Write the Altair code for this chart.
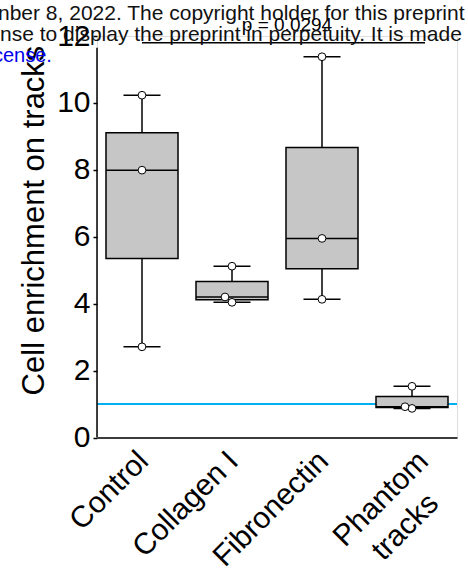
import altair as alt
import pandas as pd

# ---- data ----
categories = ["Control", "Collagen I", "Fibronectin", "Phantom\ntracks"]
control = [2.71, 7.99, 10.23]
collagen = [4.04, 4.20, 5.12]
fibronectin = [4.13, 5.95, 11.38]
phantom = [0.87, 0.92, 1.53]
y_ticks = [0, 2, 4, 6, 8, 10, 12]
reference_level = 1
p_label = "p = 0.0294"
header_lines = [
    "nber 8, 2022. The copyright holder for this preprint",
    "nse to display the preprint in perpetuity. It is made",
]
header_link = "cense."

WIDTH = 360
HEIGHT = 401.5
half_band = WIDTH / len(categories) / 2

series = [control, collagen, fibronectin, phantom]
rows = []
for cat, vals in zip(categories, series):
    sv = sorted(vals)
    offs = [0.0] * len(sv)
    for i in range(len(sv) - 1):
        if sv[i + 1] - sv[i] < 0.3:
            offs[i + 1] = -7.0
    for v, o in zip(sv, offs):
        rows.append({"group": cat, "value": v, "jit": o + half_band})
df = pd.DataFrame(rows)
one = pd.DataFrame({"k": [0]})

FONT = "Liberation Sans"
YTITLE = "Cell enrichment on tracks"

# second line of a two-line label is centred under the first (pad it, keep the pad from being trimmed)
label_expr = (
    "indexof(datum.label, '\\n') >= 0 ? "
    "[split(datum.label, '\\n')[0], split(datum.label, '\\n')[1] + '\u00a0\u00a0\u2009\u200b'] "
    ": datum.label"
)

xscale = alt.Scale(domain=categories, paddingInner=0, paddingOuter=0)
xaxis = alt.Axis(
    title=None, labelAngle=-45, labelFontSize=30, labelFont=FONT, labelColor="black",
    ticks=False, domain=True, domainColor="black", domainWidth=1.5,
    labelAlign="right", labelBaseline="alphabetic", labelPadding=25,
    labelOffset={"condition": {"test": "indexof(datum.value, '\\n') >= 0", "value": 18}, "value": 8},
    labelLineHeight=37,
    labelExpr=label_expr,
)
yscale = alt.Scale(domain=[0, 12], nice=False, zero=True)
yaxis = alt.Axis(
    title=YTITLE, values=y_ticks, labelFontSize=30, labelFont=FONT, labelColor="black",
    tickSize=4, tickWidth=1.5, tickColor="black", labelPadding=3, domain=False, grid=False,
    titleFontSize=31, titleFont=FONT, titleFontWeight="normal", titleColor="black",
    titleX=-54, titleY=184, titleBaseline="alphabetic", titleAngle=-90, titleAlign="center",
)

X = alt.X("group:N", sort=categories, scale=xscale, axis=xaxis)

base = alt.Chart(df)
ann = alt.Chart(one)
stats = base.transform_aggregate(
    vmin="min(value)", q1="q1(value)", med="median(value)", q3="q3(value)", vmax="max(value)",
    groupby=["group"],
)

ref_line = ann.mark_rule(color="#00b0f0", strokeWidth=2).encode(
    y=alt.datum(reference_level)
)
axis_line = ann.mark_rule(color="black", strokeWidth=1.5).encode(
    x=alt.value(0), y=alt.datum(0), y2=alt.datum(11.65)
)
whisk = stats.mark_rule(color="black", strokeWidth=1.5).encode(
    x=X, y=alt.Y("vmin:Q", scale=yscale, axis=yaxis), y2="vmax:Q"
)
box = stats.mark_bar(size=72, fill="#c6c6c6", stroke="black", strokeWidth=1.5).encode(
    x=X, y=alt.Y("q1:Q", scale=yscale, axis=yaxis), y2="q3:Q"
)
med = stats.mark_tick(size=72, thickness=1.5, color="black", opacity=1).encode(
    x=X, y=alt.Y("med:Q", scale=yscale, axis=yaxis)
)
cap_lo = stats.mark_tick(size=37, thickness=1.5, color="black", opacity=1).encode(
    x=X, y=alt.Y("vmin:Q", scale=yscale, axis=yaxis)
)
cap_hi = stats.mark_tick(size=37, thickness=1.5, color="black", opacity=1).encode(
    x=X, y=alt.Y("vmax:Q", scale=yscale, axis=yaxis)
)
pts = base.mark_circle(fill="white", stroke="black", strokeWidth=1, size=60, opacity=1).encode(
    x=X, y=alt.Y("value:Q", scale=yscale, axis=yaxis),
    xOffset=alt.XOffset("jit:Q", scale=None),
)
bracket = ann.mark_rule(color="black", strokeWidth=1.5, x2Offset=13).encode(
    x=alt.datum(categories[0]), x2=alt.datum(categories[3]), y=alt.datum(11.8)
)
ptext = ann.mark_text(fontSize=19, font=FONT, color="black", align="center", baseline="alphabetic").encode(
    x=alt.value(190), y=alt.datum(12.15), text=alt.value(p_label)
)
h1 = ann.mark_text(fontSize=21, font=FONT, color="#111111", align="left", baseline="alphabetic").encode(
    x=alt.value(-99), y=alt.value(-16), text=alt.value(header_lines[0])
)
h2 = ann.mark_text(fontSize=21, font=FONT, color="#111111", align="left", baseline="alphabetic").encode(
    x=alt.value(-97), y=alt.value(5), text=alt.value(header_lines[1])
)
h3 = ann.mark_text(fontSize=20, font=FONT, color="#0000ee", align="left", baseline="alphabetic").encode(
    x=alt.value(-104), y=alt.value(26), text=alt.value(header_link)
)

chart = alt.layer(
    ref_line, axis_line, whisk, box, med, cap_lo, cap_hi, pts, bracket, ptext, h1, h2, h3
).properties(
    width=WIDTH, height=HEIGHT,
    autosize=alt.AutoSizeParams(type="none"),
    padding={"left": 97, "top": 36, "right": 11, "bottom": 135.5},
).configure_view(stroke=None).configure(font=FONT, background="white")

chart.save("out.html", embed_options={"renderer": "svg", "actions": False})
